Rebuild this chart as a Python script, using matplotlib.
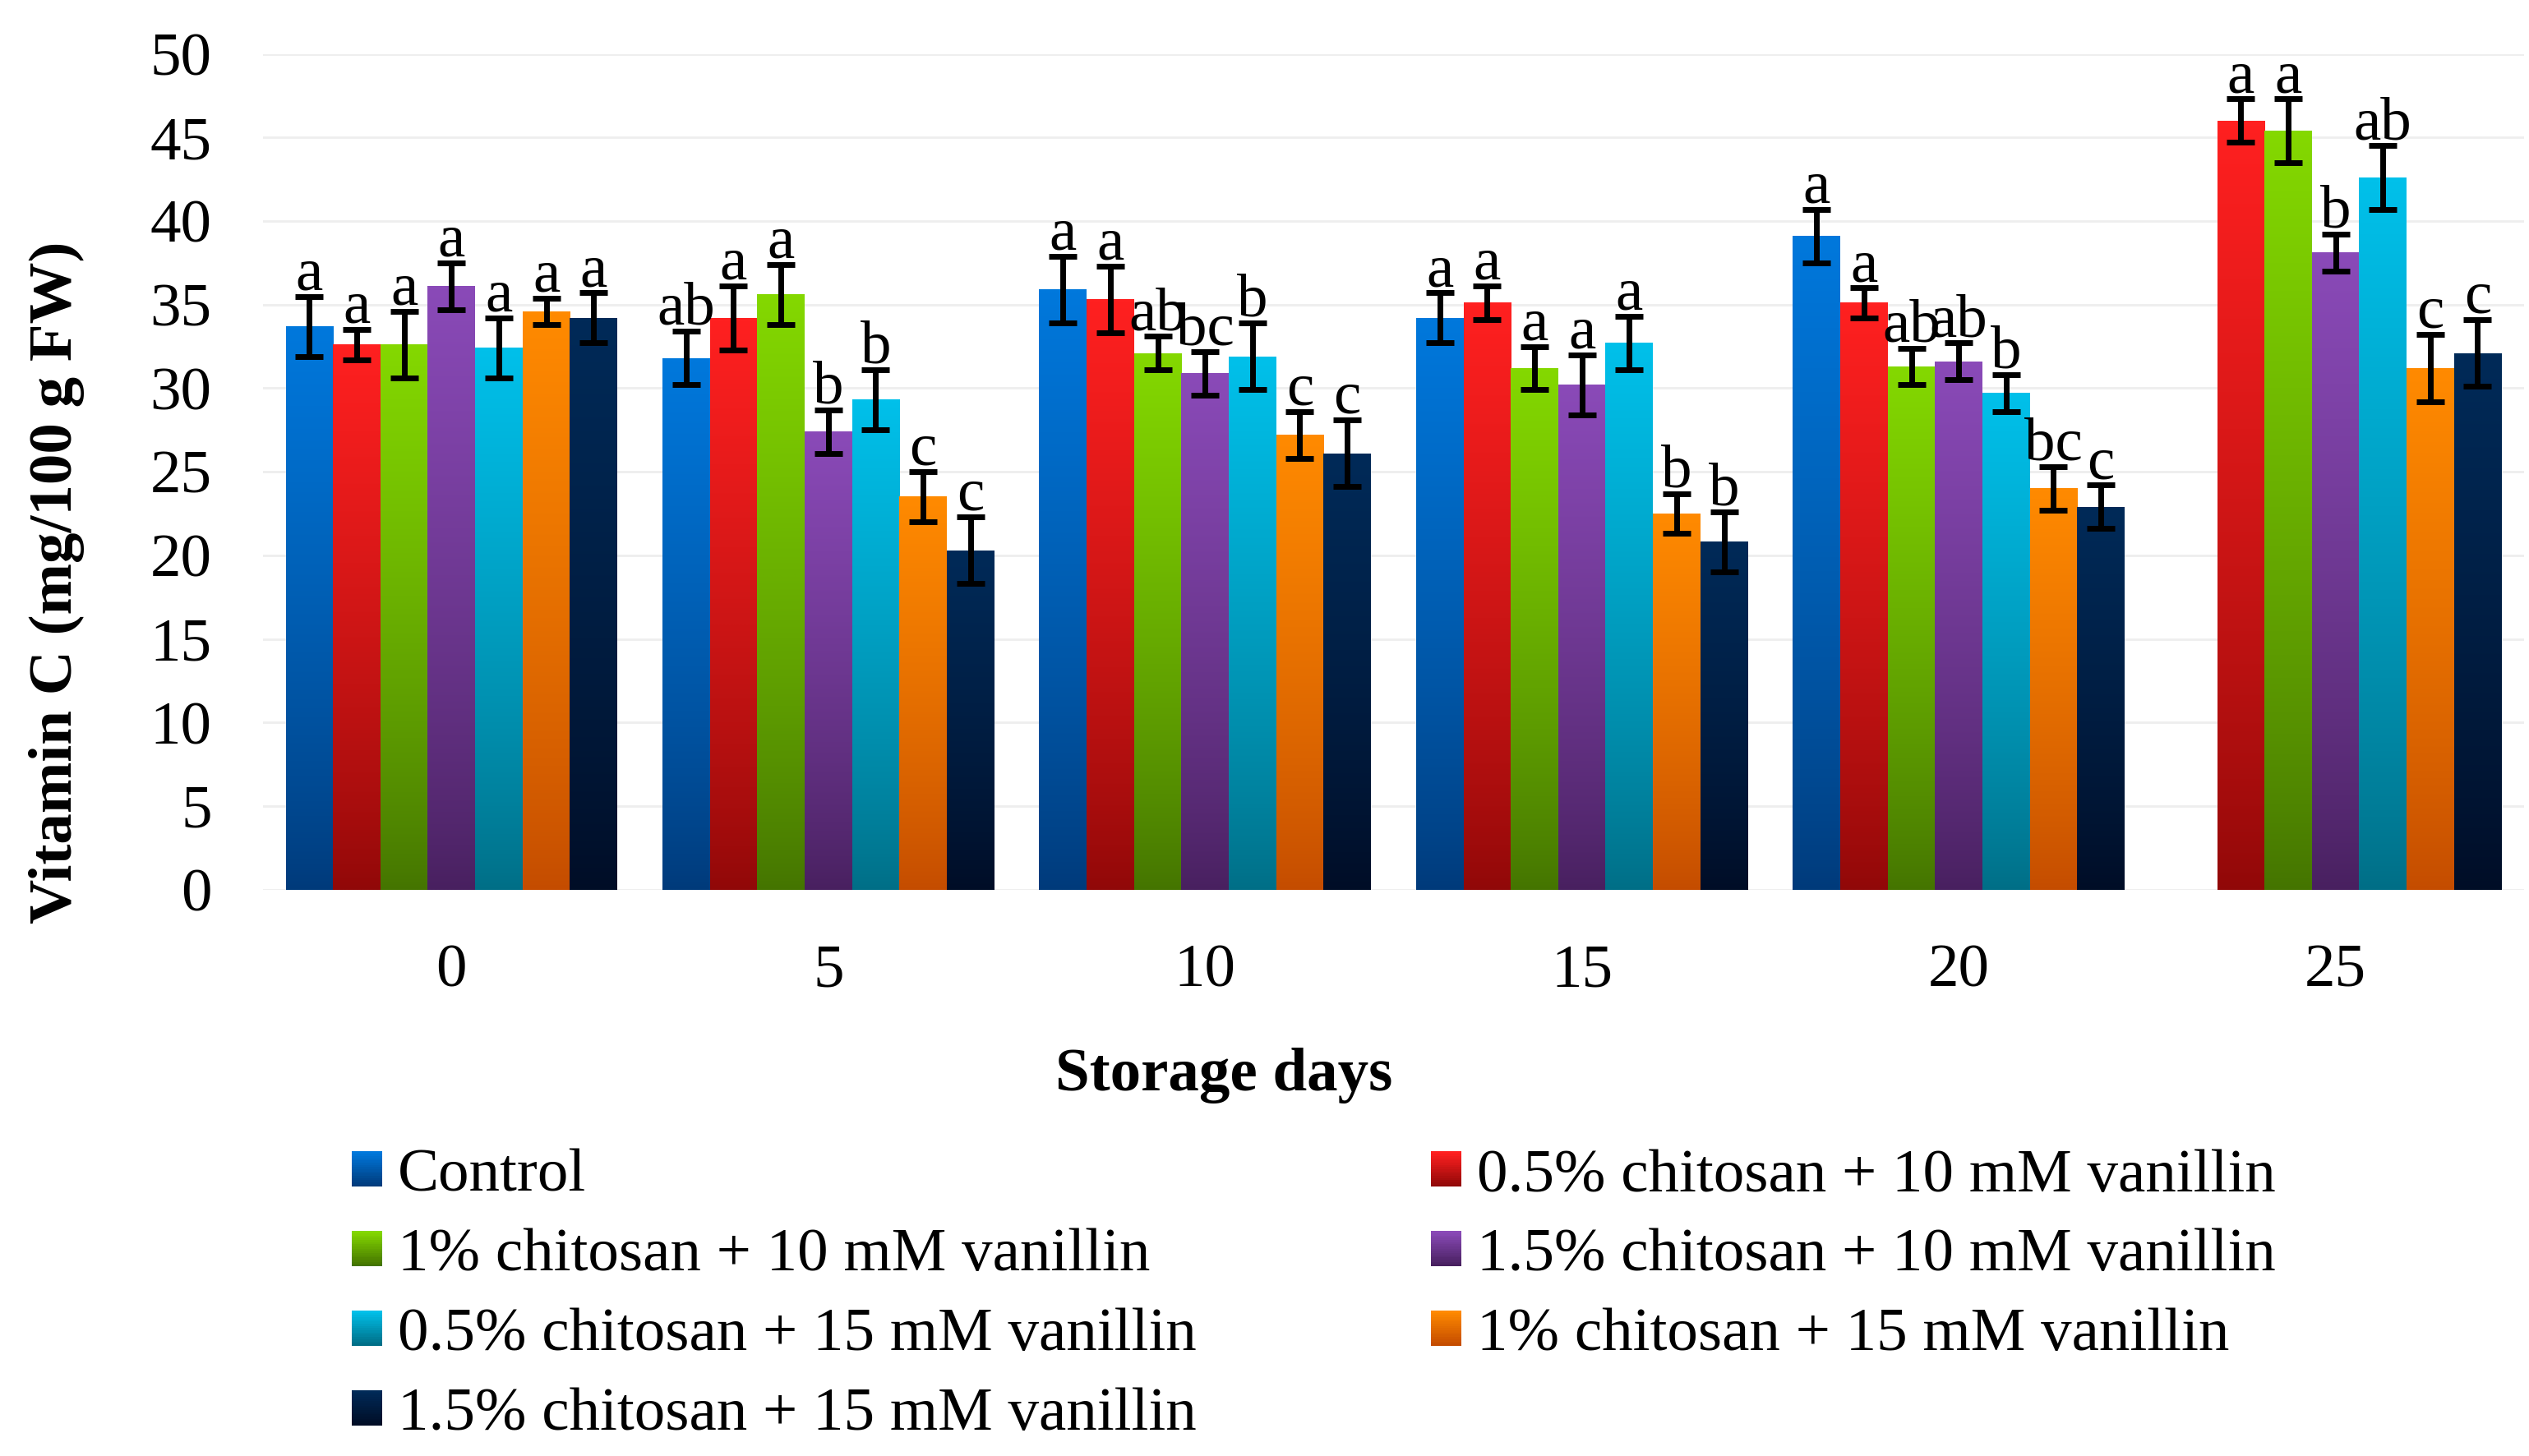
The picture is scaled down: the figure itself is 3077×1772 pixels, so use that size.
import numpy as np
import matplotlib
matplotlib.use('Agg')
import matplotlib.pyplot as plt
from matplotlib.colors import LinearSegmentedColormap, to_rgb
from matplotlib.legend_handler import HandlerBase
from matplotlib.patches import Rectangle

plt.rcParams['font.family'] = ['Liberation Serif', 'DejaVu Serif']

# data
days = ['0', '5', '10', '15', '20', '25']
treatments = ['Control',
              '0.5% chitosan + 10 mM vanillin',
              '1% chitosan + 10 mM vanillin',
              '1.5% chitosan + 10 mM vanillin',
              '0.5% chitosan + 15 mM vanillin',
              '1% chitosan + 15 mM vanillin',
              '1.5% chitosan + 15 mM vanillin']

control = [33.7, 31.8, 35.9, 34.2, 39.1, np.nan]
cs05_v10 = [32.6, 34.2, 35.3, 35.1, 35.1, 46.0]
cs1_v10 = [32.6, 35.6, 32.1, 31.2, 31.3, 45.4]
cs15_v10 = [36.1, 27.4, 30.9, 30.2, 31.6, 38.1]
cs05_v15 = [32.4, 29.3, 31.9, 32.7, 29.7, 42.6]
cs1_v15 = [34.6, 23.5, 27.2, 22.5, 24.0, 31.2]
cs15_v15 = [34.2, 20.3, 26.1, 20.8, 22.9, 32.1]

control_err = [1.8, 1.6, 2.0, 1.5, 1.6, np.nan]
cs05_v10_err = [0.9, 1.9, 2.0, 1.0, 0.9, 1.3]
cs1_v10_err = [2.0, 1.8, 1.0, 1.3, 1.1, 1.9]
cs15_v10_err = [1.4, 1.3, 1.3, 1.8, 1.1, 1.1]
cs05_v15_err = [1.8, 1.8, 2.0, 1.6, 1.1, 1.9]
cs1_v15_err = [0.8, 1.5, 1.4, 1.2, 1.3, 2.0]
cs15_v15_err = [1.5, 2.0, 2.0, 1.8, 1.3, 2.0]

control_let = ['a', 'ab', 'a', 'a', 'a', '']
cs05_v10_let = ['a', 'a', 'a', 'a', 'a', 'a']
cs1_v10_let = ['a', 'a', 'ab', 'a', 'ab', 'a']
cs15_v10_let = ['a', 'b', 'bc', 'a', 'ab', 'b']
cs05_v15_let = ['a', 'b', 'b', 'a', 'b', 'ab']
cs1_v15_let = ['a', 'c', 'c', 'b', 'bc', 'c']
cs15_v15_let = ['a', 'c', 'c', 'b', 'c', 'c']

values = [control, cs05_v10, cs1_v10, cs15_v10, cs05_v15, cs1_v15, cs15_v15]
errors = [control_err, cs05_v10_err, cs1_v10_err, cs15_v10_err,
          cs05_v15_err, cs1_v15_err, cs15_v15_err]
letters = [control_let, cs05_v10_let, cs1_v10_let, cs15_v10_let,
           cs05_v15_let, cs1_v15_let, cs15_v15_let]

# gradient colours (top, bottom)
tops = ['#0078dc', '#ff2020', '#84d800', '#8a4ab8', '#00c0ea', '#ff8a00', '#002a58']
bottoms = ['#003a7a', '#900808', '#447400', '#48205f', '#006e86', '#c44c00', '#000d26']


class GradHandler(HandlerBase):
    def __init__(self, top, bottom):
        super().__init__()
        self.top = np.array(to_rgb(top))
        self.bottom = np.array(to_rgb(bottom))

    def create_artists(self, legend, orig_handle, xdescent, ydescent,
                       width, height, fontsize, trans):
        n = 16
        arts = []
        for i in range(n):
            t = i / (n - 1)
            c = self.bottom * (1 - t) + self.top * t
            r = Rectangle((-xdescent, -ydescent + height * i / n), width,
                          height / n * 1.05, facecolor=c, edgecolor='none',
                          transform=trans)
            arts.append(r)
        return arts


fig = plt.figure(figsize=(30.77, 17.72), dpi=100)
ax = fig.add_axes([0.104, 0.389, 0.894, 0.574])

x = np.arange(len(days))
w = 0.1257
grad = np.linspace(0, 1, 256).reshape(-1, 1) ** 0.8

for i, (vals, errs, lets) in enumerate(zip(values, errors, letters)):
    xs = x + (i - 3) * w
    cmap = LinearSegmentedColormap.from_list('g%d' % i, [bottoms[i], tops[i]])
    bars = ax.bar(xs, vals, width=w, color='none', edgecolor='none', zorder=2)
    for b in bars:
        h = b.get_height()
        if np.isnan(h):
            continue
        x0 = b.get_x()
        ax.imshow(grad, extent=(x0, x0 + b.get_width(), 0, h), origin='lower',
                  aspect='auto', cmap=cmap, vmin=0, vmax=1, zorder=2,
                  interpolation='bilinear')
    ax.errorbar(xs, vals, yerr=errs, fmt='none', ecolor='black',
                elinewidth=5, capsize=12, capthick=5, zorder=3)
    for xi, v, e, l in zip(xs, vals, errs, lets):
        if l and not np.isnan(v):
            ax.annotate(l, (xi, v + e), xytext=(0, 6), textcoords='offset points',
                        ha='center', va='baseline', fontsize=54, zorder=4)

ax.set_xlim(-0.5, 5.5)
ax.set_ylim(0, 50)
ax.set_yticks(np.arange(0, 51, 5))
ax.set_xticks(x)
ax.set_xticklabels(days)
ax.tick_params(axis='both', length=0, labelsize=54)
ax.tick_params(axis='x', pad=48)
ax.tick_params(axis='y', pad=45)
ax.yaxis.grid(True, color='#eeeeee', linewidth=2)
ax.set_axisbelow(True)
for s in ax.spines.values():
    s.set_visible(False)

ax.set_xlabel('Storage days', fontsize=54, fontweight='bold')
ax.xaxis.set_label_coords(0.425, -0.189)
ax.set_ylabel('Vitamin C (mg/100 g FW)', fontsize=54, fontweight='bold')
ax.yaxis.set_label_coords(-0.079, 0.368)

# legend filled row by row like the original
proxies = [Rectangle((0, 0), 1, 1) for _ in treatments]
hmap = {p: GradHandler(tops[i], bottoms[i]) for i, p in enumerate(proxies)}
order = [0, 2, 4, 6, 1, 3, 5]
fig.legend([proxies[k] for k in order], [treatments[k] for k in order],
           handler_map=hmap, ncol=2, loc='upper left',
           bbox_to_anchor=(0.139, 0.211), frameon=False, fontsize=54,
           handlelength=0.5, handleheight=0.5, handletextpad=0.25,
           columnspacing=3.8, labelspacing=0.39, borderpad=0, borderaxespad=0)

fig.savefig('out.png', dpi=100)
